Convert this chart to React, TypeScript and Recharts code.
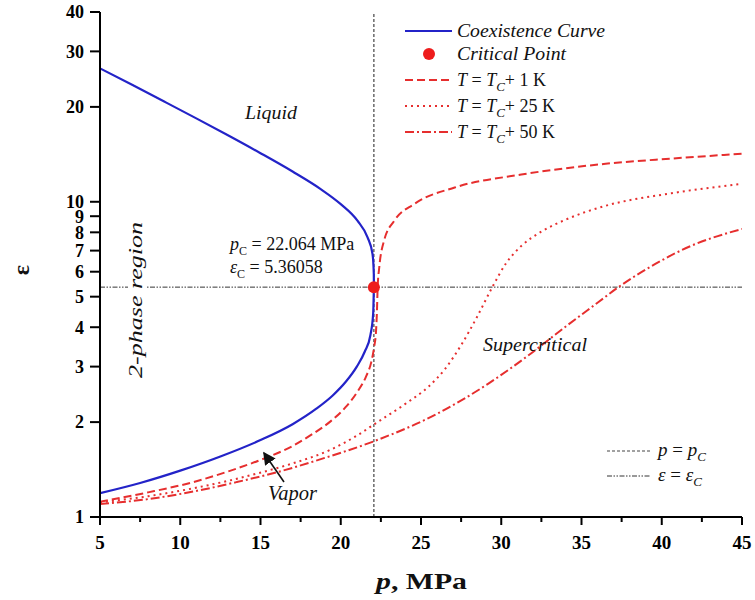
import React from 'react';
import { ComposedChart, Line, Scatter, XAxis, YAxis, ReferenceLine } from 'recharts';

// pressure (MPa) / dielectric constant readings
const liquidP   = [5, 7, 9, 11, 13, 15, 17, 18.75, 20, 21.04, 21.67, 21.98, 22.06, 22.064];
const liquidEps = [26.5, 23.5, 20.8, 18.39, 16.22, 14.26, 12.47, 10.97, 9.83, 8.71, 7.71, 6.83, 5.9, 5.36058];

const vaporP   = [5, 7.5, 10, 12.5, 15, 17, 18.5, 19.5, 20.3, 21.0, 21.5, 21.85, 22.02, 22.064];
const vaporEps = [1.19, 1.282, 1.403, 1.556, 1.754, 1.97, 2.21, 2.43, 2.68, 3.0, 3.35, 3.78, 4.42, 5.36058];

const t1P   = [5, 8, 10.9, 13, 15.1, 17, 18.2, 19.4, 20.3, 21.0, 21.56, 21.9, 22.08, 22.2, 22.25, 22.3, 22.4, 22.7, 23.33, 24.58, 27.1, 31.25, 36.5, 40.5, 45];
const t1Eps = [1.118, 1.197, 1.294, 1.396, 1.524, 1.68, 1.828, 2.018, 2.23, 2.48, 2.78, 3.1, 3.46, 3.9, 4.41, 5.36, 6.2, 7.53, 8.7, 9.84, 11.1, 12.2, 13.2, 13.7, 14.2];

const t25P   = [5, 8, 10.9, 13, 15.1, 17, 19.3, 21, 22.2, 24, 25.5, 26.5, 27.5, 28.5, 29.4, 30.3, 31.3, 32.5, 34, 36.5, 40.6, 45];
const t25Eps = [1.112, 1.164, 1.236, 1.303, 1.387, 1.479, 1.629, 1.811, 1.986, 2.28, 2.6, 2.95, 3.51, 4.32, 5.31, 6.38, 7.28, 8.04, 8.77, 9.71, 10.64, 11.4];

const t50P   = [5, 8, 10.94, 13.5, 16.1, 19, 22.08, 26.04, 29.2, 31.67, 33.96, 36.04, 37.3, 39.6, 41.7, 45];
const t50Eps = [1.099, 1.14, 1.208, 1.29, 1.39, 1.54, 1.74, 2.13, 2.65, 3.25, 4.0, 4.8, 5.36, 6.35, 7.2, 8.2];

const pCrit = 22.064;
const epsCrit = 5.36058;

const xMajorTicks = [5, 10, 15, 20, 25, 30, 35, 40, 45];
const xMinorTicks = [7.5, 12.5, 17.5, 22.5, 27.5, 32.5, 37.5, 42.5];
const yTicks = [1, 2, 3, 4, 5, 6, 7, 8, 9, 10, 20, 30, 40];

const toPts = (p: number[], e: number[]) => p.map((v, i) => ({ p: v, eps: e[i] }));

const BLUE = '#2323c8';
const RED = '#e62e2e';
const FONT = '"Liberation Serif", "Times New Roman", serif';

function XTick({ x, y, payload }: any) {
  const major = xMajorTicks.includes(payload.value);
  return (
    <g>
      <line x1={x} x2={x} y1={y} y2={y + (major ? 8 : 5)} stroke="#000" strokeWidth={2} />
      {major && (
        <text x={x} y={y + 32} textAnchor="middle" fontFamily={FONT} fontWeight="bold" fontSize={19} fill="#000">
          {payload.value}
        </text>
      )}
    </g>
  );
}

function Overlay() {
  const t = { fontFamily: FONT, fill: '#111' } as const;
  const legendRows = [
    { y: 31, dash: undefined as string | undefined, label: 'coex' },
    { y: 54, dash: undefined, label: 'crit' },
    { y: 80, dash: '8 4', label: '1' },
    { y: 106, dash: '2 4', label: '25' },
    { y: 132, dash: '9 3 2 3', label: '50' },
  ];
  return (
    <svg width={755} height={600} style={{ position: 'absolute', left: 0, top: 0, pointerEvents: 'none' }}>
      <defs>
        <marker id="arr" markerWidth="8" markerHeight="8" refX="7" refY="4" orient="auto">
          <path d="M0,0 L8,4 L0,8 z" fill="#111" />
        </marker>
      </defs>

      {/* main legend */}
      {legendRows.map((r) => (
        <g key={r.label}>
          {r.label === 'crit' ? (
            <circle cx={429} cy={r.y} r={6} fill="#ee1c1c" />
          ) : (
            <line x1={405} x2={452} y1={r.y} y2={r.y} stroke={r.label === 'coex' ? BLUE : RED} strokeWidth={2} strokeDasharray={r.dash} />
          )}
          {r.label === 'coex' && (
            <text x={457} y={r.y + 6} fontStyle="italic" fontSize={19} textLength={148} lengthAdjust="spacingAndGlyphs" {...t}>Coexistence Curve</text>
          )}
          {r.label === 'crit' && (
            <text x={457} y={r.y + 6} fontStyle="italic" fontSize={19} textLength={109} lengthAdjust="spacingAndGlyphs" {...t}>Critical Point</text>
          )}
          {['1', '25', '50'].includes(r.label) && (
            <text x={457} y={r.y + 6} fontSize={18} {...t}>
              <tspan fontStyle="italic">T</tspan> = <tspan fontStyle="italic">T</tspan>
              <tspan fontStyle="italic" fontSize={13} dy={5}>C</tspan>
              <tspan dy={-5}>+ {r.label} K</tspan>
            </text>
          )}
        </g>
      ))}

      {/* reference line legend */}
      <line x1={607} x2={650} y1={451} y2={451} stroke="#444" strokeWidth={1.2} strokeDasharray="3 2" />
      <text x={658} y={456} fontSize={19} {...t}>
        <tspan fontStyle="italic">p</tspan> = <tspan fontStyle="italic">p</tspan>
        <tspan fontStyle="italic" fontSize={13} dy={5}>C</tspan>
      </text>
      <line x1={607} x2={650} y1={476} y2={476} stroke="#333" strokeWidth={1} strokeDasharray="5 1.5 1.5 1.5 1.5 1.5" />
      <text x={658} y={481} fontSize={19} {...t}>
        <tspan fontStyle="italic">ε</tspan> = <tspan fontStyle="italic">ε</tspan>
        <tspan fontStyle="italic" fontSize={13} dy={5}>C</tspan>
      </text>

      {/* annotations */}
      <text x={245} y={119} fontStyle="italic" fontSize={19} textLength={52} lengthAdjust="spacingAndGlyphs" {...t}>Liquid</text>
      <text x={230} y={250} fontSize={18} {...t}>
        <tspan fontStyle="italic">p</tspan>
        <tspan fontSize={12} dy={5}>C</tspan>
        <tspan dy={-5}> = 22.064 MPa</tspan>
      </text>
      <text x={230} y={273} fontSize={18} {...t}>
        <tspan fontStyle="italic">ε</tspan>
        <tspan fontSize={12} dy={5}>C</tspan>
        <tspan dy={-5}> = 5.36058</tspan>
      </text>
      <g transform="translate(142,300) rotate(-90)">
        <rect x={-80} y={-14} width={160} height={19} fill="#fff" />
        <text x={-78} y={0} fontStyle="italic" fontSize={18} textLength={156} lengthAdjust="spacingAndGlyphs" {...t}>2-phase region</text>
      </g>
      <text x={483} y={351} fontStyle="italic" fontSize={19} textLength={104} lengthAdjust="spacingAndGlyphs" {...t}>Supercritical</text>
      <text x={268} y={500} fontStyle="italic" fontSize={20} textLength={49} lengthAdjust="spacingAndGlyphs" {...t}>Vapor</text>
      <line x1={284} y1={482} x2={264} y2={453} stroke="#111" strokeWidth={1.6} markerEnd="url(#arr)" />

      {/* axis titles */}
      <text x={376} y={589} fontSize={23} fontWeight="bold" textLength={91} lengthAdjust="spacingAndGlyphs" {...t}>
        <tspan fontStyle="italic">p</tspan>, MPa
      </text>
      <text transform="translate(29,270) rotate(-90)" textAnchor="middle" fontSize={24} fontWeight="bold" {...t}>ε</text>
    </svg>
  );
}

export default function App() {
  return (
    <div style={{ position: 'fixed', left: 0, top: 0, width: 755, height: 600, background: '#fff' }}>
      <ComposedChart width={755} height={600} margin={{ top: 12, right: 13, bottom: 0, left: 40 }}>
        <XAxis
          type="number"
          dataKey="p"
          domain={[5, 45]}
          ticks={[...xMajorTicks, ...xMinorTicks].sort((a, b) => a - b)}
          interval={0}
          allowDataOverflow
          height={83}
          tickSize={0}
          tickMargin={0}
          tickLine={false}
          tick={(props: any) => <XTick {...props} />}
          axisLine={{ stroke: '#000', strokeWidth: 2 }}
        />
        <YAxis
          type="number"
          dataKey="eps"
          scale="log"
          domain={[1, 40]}
          ticks={yTicks}
          interval={0}
          allowDataOverflow
          width={60}
          tickSize={10}
          tickMargin={6}
          tickLine={{ stroke: '#000', strokeWidth: 2 }}
          axisLine={{ stroke: '#000', strokeWidth: 2 }}
          tick={{ fontFamily: FONT, fontWeight: 'bold', fontSize: 18, fill: '#000' }}
        />
        <ReferenceLine x={pCrit} stroke="#444" strokeWidth={1.2} strokeDasharray="3 2" />
        <ReferenceLine y={epsCrit} stroke="#333" strokeWidth={1} strokeDasharray="5 1.5 1.5 1.5 1.5 1.5" />
        <Line data={toPts(liquidP, liquidEps)} dataKey="eps" type="monotone" stroke={BLUE} strokeWidth={2.2} dot={false} isAnimationActive={false} />
        <Line data={toPts(vaporP, vaporEps)} dataKey="eps" type="monotone" stroke={BLUE} strokeWidth={2.2} dot={false} isAnimationActive={false} />
        <Line data={toPts(t1P, t1Eps)} dataKey="eps" type="monotone" stroke={RED} strokeWidth={2} strokeDasharray="8 4" dot={false} isAnimationActive={false} />
        <Line data={toPts(t25P, t25Eps)} dataKey="eps" type="monotone" stroke={RED} strokeWidth={2} strokeDasharray="2 4" dot={false} isAnimationActive={false} />
        <Line data={toPts(t50P, t50Eps)} dataKey="eps" type="monotone" stroke={RED} strokeWidth={2} strokeDasharray="9 3 2 3" dot={false} isAnimationActive={false} />
        <Scatter
          data={[{ p: pCrit, eps: epsCrit }]}
          dataKey="eps"
          isAnimationActive={false}
          shape={(props: any) => <circle cx={props.cx} cy={props.cy} r={6} fill="#ee1c1c" />}
        />
      </ComposedChart>
      <Overlay />
    </div>
  );
}
